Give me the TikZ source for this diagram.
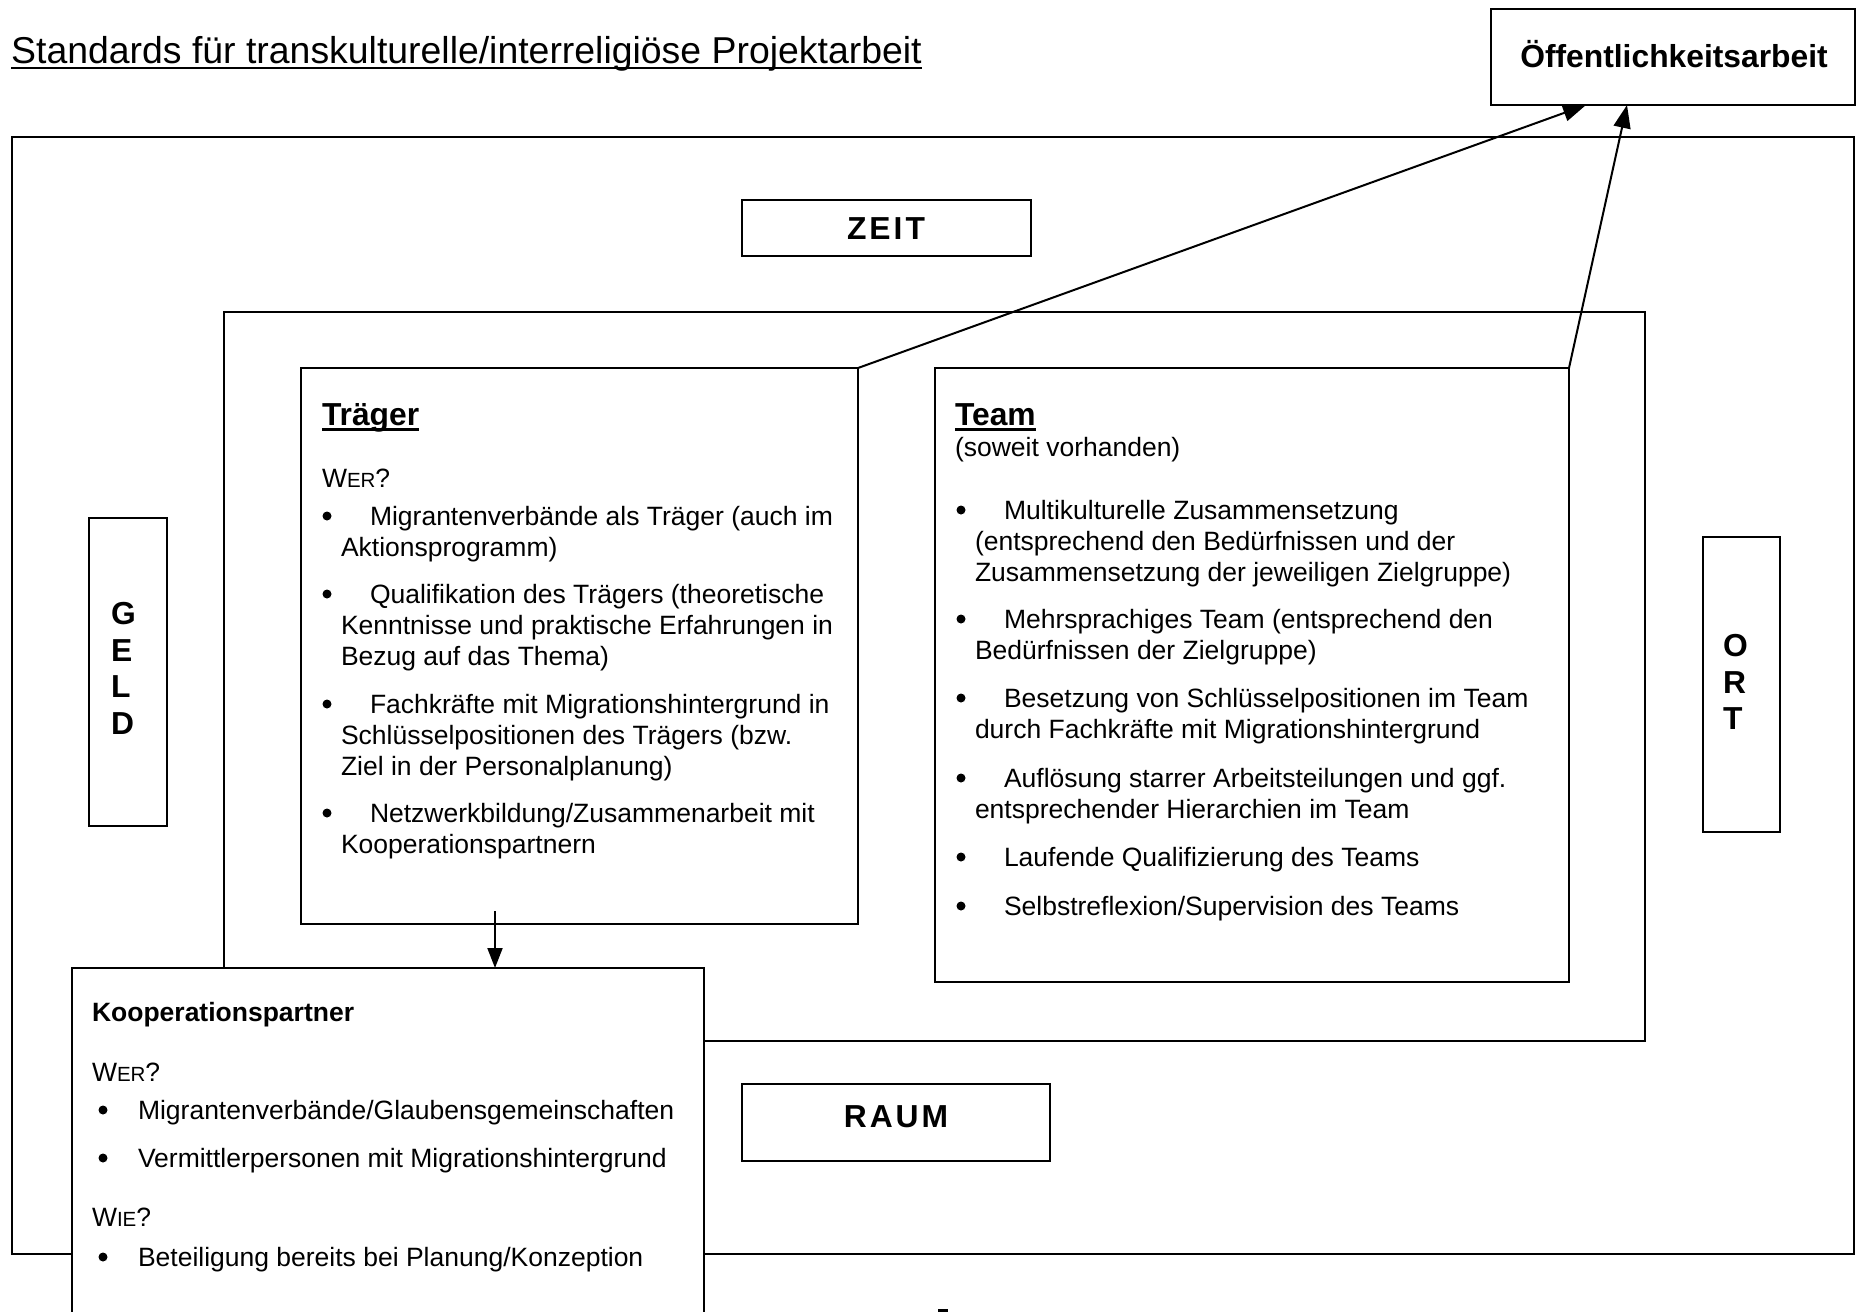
\documentclass[tikz,border=0pt]{standalone}
\usepackage{fontspec}
\setmainfont{Liberation Sans}
\usetikzlibrary{arrows.meta}
\newcommand{\bodyfont}{\fontsize{26.5pt}{30.8pt}\selectfont}
\newcommand{\headfont}{\fontsize{31.8pt}{36.6pt}\selectfont\bfseries}
\newcommand{\titlefont}{\fontsize{37.4pt}{43pt}\selectfont}
\newcommand{\smc}[1]{{\fontsize{20.5pt}{20.5pt}\selectfont #1}}
\newcommand{\ml}[1]{\begin{tabular}[t]{@{}l@{}}#1\end{tabular}}
\begin{document}
\begin{tikzpicture}[x=1pt,y=-1pt,
  frame/.style={draw, line width=2pt, inner sep=0pt, outer sep=0pt, anchor=north west, fill=white},
  txt/.style={inner sep=0pt, outer sep=0pt, anchor=base west, font=\bodyfont},
  head/.style={inner sep=0pt, outer sep=0pt, anchor=base west, font=\headfont},
  big/.style={inner sep=0pt, outer sep=0pt, anchor=base, font=\headfont},
  uline/.style={line width=2.5pt},
  arr/.style={line width=2pt, -{Triangle[length=23pt,width=17pt]}},
  arrs/.style={line width=2pt, -{Triangle[length=20pt,width=15pt]}},
]
\useasboundingbox[fill=white] (0,0) rectangle (1856,1312);

% title
\node[inner sep=0pt, anchor=base west, font=\titlefont] (title) at (11,63) {Standards für transkulturelle/interreligiöse Projektarbeit};
\draw[uline] ([yshift=-5pt]title.base west) -- ([yshift=-5pt]title.base east);

% frames
\node[frame, minimum width=1842pt, minimum height=1117pt] (outer) at (12,137) {};
\node[frame, minimum width=1421pt, minimum height=729pt] (inner) at (224,312) {};
\node[frame, minimum width=289pt, minimum height=56pt] (zeit) at (742,200) {};
\node[frame, minimum width=308pt, minimum height=77pt] (raum) at (742,1084) {};
\node[frame, minimum width=78pt, minimum height=308pt] (geld) at (89,518) {};
\node[frame, minimum width=77pt, minimum height=295pt] (ort) at (1703,537) {};
\node[frame, minimum width=364pt, minimum height=96pt] (oeff) at (1491,9) {};
\node[frame, minimum width=557pt, minimum height=556pt] (traeger) at (301,368) {};
\node[frame, minimum width=634pt, minimum height=614pt] (team) at (935,368) {};

% labels in small frames
\node[big] (zeitlbl) at (886,239.5) {Z\kern3pt E\kern3pt I\kern3pt T};
\node[big] (raumlbl) at (896,1127) {R\kern3pt A\kern3pt U\kern3pt M};
\node[big] (oefflbl) at (1674,67.5) {Öffentlichkeitsarbeit};
\node[head] (geldlbl) at (111,624.5) {\ml{G\\E\\L\\D}};
\node[head] (ortlbl) at (1723,656.5) {\ml{O\\R\\T}};

% Traeger
\node[head] (th) at (322,425) {Träger};
\draw[uline] ([yshift=-4.5pt]th.base west) -- ([yshift=-4.5pt]th.base east);
\node[txt] (twer) at (322,487.5) {W\smc{ER}?};
\node[txt] (tb1) at (341,525.5) {\ml{\hspace*{29pt}Migrantenverbände als Träger (auch im\\Aktionsprogramm)}};
\node[txt] (tb2) at (341,603.5) {\ml{\hspace*{29pt}Qualifikation des Trägers (theoretische\\Kenntnisse und praktische Erfahrungen in\\Bezug auf das Thema)}};
\node[txt] (tb3) at (341,713.5) {\ml{\hspace*{29pt}Fachkräfte mit Migrationshintergrund in\\Schlüsselpositionen des Trägers (bzw.\\Ziel in der Personalplanung)}};
\node[txt] (tb4) at (341,822.5) {\ml{\hspace*{29pt}Netzwerkbildung/Zusammenarbeit mit\\Kooperationspartnern}};
\foreach \yy in {516,594,704,813} \fill (327,\yy) circle[radius=4.5pt];

% Team
\node[head] (teh) at (955,425) {Team};
\draw[uline] ([yshift=-4.5pt]teh.base west) -- ([yshift=-4.5pt]teh.base east);
\node[txt] (tesub) at (955,456.5) {(soweit vorhanden)};
\node[txt] (teb1) at (975,519.5) {\ml{\hspace*{29pt}Multikulturelle Zusammensetzung\\(entsprechend den Bedürfnissen und der\\Zusammensetzung der jeweiligen Zielgruppe)}};
\node[txt] (teb2) at (975,628.5) {\ml{\hspace*{29pt}Mehrsprachiges Team (entsprechend den\\Bedürfnissen der Zielgruppe)}};
\node[txt] (teb3) at (975,707.5) {\ml{\hspace*{29pt}Besetzung von Schlüsselpositionen im Team\\durch Fachkräfte mit Migrationshintergrund}};
\node[txt] (teb4) at (975,787.5) {\ml{\hspace*{29pt}Auflösung starrer Arbeitsteilungen und ggf.\\entsprechender Hierarchien im Team}};
\node[txt] (teb5) at (975,866.5) {\hspace*{29pt}Laufende Qualifizierung des Teams};
\node[txt] (teb6) at (975,915.5) {\hspace*{29pt}Selbstreflexion/Supervision des Teams};
\foreach \yy in {510,619,698,778,857,906} \fill (961,\yy) circle[radius=4.5pt];

% arrows to Oeffentlichkeitsarbeit
\draw[arr] (traeger.north east) -- ([xshift=-87pt]oeff.south);
\draw[arr] (team.north east) -- ([xshift=-46pt]oeff.south);

% Kooperationspartner
\node[frame, minimum width=632pt, minimum height=400pt] (koop) at (72,968) {};
\node[txt, font=\bodyfont\bfseries] (kh) at (92,1021.5) {Kooperationspartner};
\node[txt] (kwer) at (92,1081.5) {W\smc{ER}?};
\node[txt] (kb1) at (138,1119.5) {Migrantenverbände/Glaubensgemeinschaften};
\node[txt] (kb2) at (138,1167.5) {Vermittlerpersonen mit Migrationshintergrund};
\node[txt] (kwie) at (92,1226.5) {W\smc{IE}?};
\node[txt] (kb3) at (138,1266.5) {Beteiligung bereits bei Planung/Konzeption};
\foreach \yy in {1110,1158,1257} \fill (103,\yy) circle[radius=4.5pt];

% arrow Traeger -> Kooperationspartner
\coordinate (dstart) at (495,911);
\draw[arrs] (dstart) -- (dstart |- koop.north);

% small cut-off mark at the bottom
\fill (938,1309) rectangle (948,1312);
\end{tikzpicture}
\end{document}
